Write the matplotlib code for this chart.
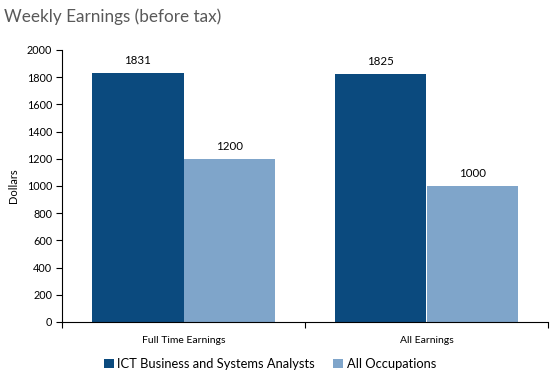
import matplotlib.pyplot as plt
import numpy as np

plt.rcParams["font.family"] = ["Lato", "DejaVu Sans"]

categories = ["Full Time Earnings", "All Earnings"]
series_names = ["ICT Business and Systems Analysts", "All Occupations"]
ict_values = [1831, 1825]
all_values = [1200, 1000]
colors = ["#0B4A7E", "#7FA5CA"]

W, H = 560, 377
fig = plt.figure(figsize=(W / 100, H / 100), dpi=100)
ax = fig.add_axes([62 / W, 1 - 322 / H, (548 - 62) / W, (322 - 50) / H])

x = np.arange(len(categories))
bw = 0.378
for i, (vals, col) in enumerate(zip([ict_values, all_values], colors)):
    pos = x + (i - 0.5) * bw
    ax.bar(pos, vals, width=bw, color=col, label=series_names[i])
    for p, v in zip(pos, vals):
        ax.annotate(f"{v}", (p, v), xytext=(0, 5), textcoords="offset points",
                    ha="center", va="bottom", fontsize=8.3, color="black")

ax.set_xlim(-0.5, 1.5)
ax.set_ylim(0, 2000)
ax.set_yticks(range(0, 2001, 200))
ax.set_xticks([-0.5, 0.5, 1.5])
ax.set_xticklabels([])
ax.set_xticks(x, minor=True)
ax.set_xticklabels(categories, minor=True)
ax.tick_params(axis="x", which="minor", length=0, pad=10, labelsize=7.5)
ax.tick_params(axis="x", which="major", length=4, direction="out")
ax.tick_params(axis="y", length=4, labelsize=7.8, pad=3)
for s in ["top", "right"]:
    ax.spines[s].set_visible(False)
ax.set_ylabel("Dollars", fontsize=8, labelpad=6)

fig.text(4 / W, 1 - 17 / H, "Weekly Earnings (before tax)", fontsize=12.3,
         color="#595959", va="center", ha="left")

fig.legend(loc="center", bbox_to_anchor=(270 / W, 1 - 364 / H),
           ncol=2, frameon=False, fontsize=9.3, handlelength=0.75,
           handleheight=0.75, handletextpad=0.3, columnspacing=1.4)

fig.savefig("out.png", dpi=100)
